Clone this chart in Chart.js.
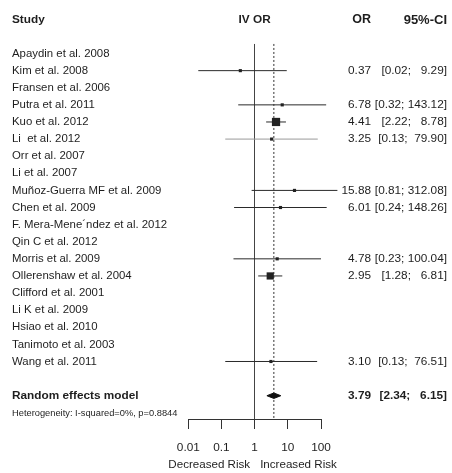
<!DOCTYPE html>
<html>
<head>
<meta charset="utf-8">
<script src="https://cdn.jsdelivr.net/npm/chart.js@4.4.0/dist/chart.umd.min.js"></script>
<style>
  html, body { margin: 0; padding: 0; background: #fff; }
  #wrap { width: 452px; height: 473px; }
</style>
</head>
<body>
<div id="wrap"><canvas id="forest" width="452" height="473"></canvas></div>
<script>
// Studies, top to bottom
const studies = [
    'Apaydin et al. 2008', 'Kim et al. 2008', 'Fransen et al. 2006', 'Putra et al. 2011',
    'Kuo et al. 2012', 'Li  et al. 2012', 'Orr et al. 2007', 'Li et al. 2007',
    'Muñoz-Guerra MF et al. 2009', 'Chen et al. 2009', 'F. Mera-Mene\u00b4ndez et al. 2012',
    'Qin C et al. 2012', 'Morris et al. 2009', 'Ollerenshaw et al. 2004', 'Clifford et al. 2001',
    'Li K et al. 2009', 'Hsiao et al. 2010', 'Tanimoto et al. 2003', 'Wang et al. 2011'
];
// Odds ratios and 95% CI (null = no estimable OR)
const orValues = [null, 0.37, null, 6.78, 4.41, 3.25, null, null, 15.88, 6.01, null, null, 4.78, 2.95, null, null, null, null, 3.10];
const ciLower  = [null, 0.02, null, 0.32, 2.22, 0.13, null, null, 0.81, 0.24, null, null, 0.23, 1.28, null, null, null, null, 0.13];
const ciUpper  = [null, 9.29, null, 143.12, 8.78, 79.90, null, null, 312.08, 148.26, null, null, 100.04, 6.81, null, null, null, null, 76.51];
// relative study weights (size of the square)
const weights  = [0, 1, 0, 1, 6, 1, 0, 0, 1, 1, 0, 0, 1, 5, 0, 0, 0, 0, 1];

const pooledLabel = 'Random effects model';
const pooledOR = 3.79, pooledLower = 2.34, pooledUpper = 6.15;
const heterogeneity = 'Heterogeneity: I-squared=0%, p=0.8844';
const xTicks = [0.01, 0.1, 1, 10, 100];
const sideLabels = ['Decreased Risk', 'Increased Risk'];

const FONT = "'Liberation Sans', Arial, sans-serif";
const TEXT = '#1e1e1e';
const yTop = 0.44, yBottom = 22.42;

// rows of the table: header, studies, pooled, heterogeneity
const rows = [];
rows.push({ y: -0.96, name: 'Study', or: 'OR', ci: '95%-CI', kind: 'head' });
studies.forEach((s, i) => {
    const has = orValues[i] !== null;
    rows.push({
        y: i + 1, name: s,
        or: has ? orValues[i].toFixed(2) : '',
        ci: has ? '[' + ciLower[i].toFixed(2) + '; ' + ciUpper[i].toFixed(2).padStart(6) + ']' : '',
        kind: 'study'
    });
});
const pooledRow = studies.length + 2;
rows.push({ y: pooledRow, name: pooledLabel, or: pooledOR.toFixed(2),
    ci: '[' + pooledLower.toFixed(2) + '; ' + pooledUpper.toFixed(2).padStart(6) + ']', kind: 'pooled' });
rows.push({ y: pooledRow + 1.05, name: heterogeneity, or: '', ci: '', kind: 'het' });

function rowFont(i, size, headSize) {
    const k = rows[i] ? rows[i].kind : 'study';
    if (k === 'het') return { family: FONT, size: 9.3 };
    if (k === 'head') return { family: FONT, size: headSize, weight: 'bold' };
    if (k === 'pooled') return { family: FONT, size: 11.8, weight: 'bold' };
    return { family: FONT, size: size };
}

function tableAxis(field, position, width, weight, size, headSize) {
    return {
        type: 'linear', position: position, reverse: true, min: yTop, max: yBottom, weight: weight,
        afterBuildTicks: a => { a.ticks = rows.map(r => ({ value: r.y })); },
        afterFit: a => { a.width = width; },
        ticks: {
            autoSkip: false, crossAlign: 'far', padding: 0, color: TEXT,
            callback: (v, i) => rows[i][field],
            font: ctx => rowFont(ctx.index, size, headSize)
        },
        grid: { display: false, drawTicks: false },
        border: { display: false }
    };
}

// confidence interval lines
const datasets = [];
studies.forEach((s, i) => {
    if (orValues[i] === null) return;
    datasets.push({
        data: [{ x: ciLower[i], y: i + 1 }, { x: ciUpper[i], y: i + 1 }],
        showLine: true, borderColor: s.startsWith('Li  ') ? '#9a9a9a' : '#2a2a2a',
        borderWidth: 1, pointRadius: 0, clip: false, order: 2
    });
});
// study squares
datasets.push({
    data: studies.map((s, i) => orValues[i] === null ? null : { x: orValues[i], y: i + 1 }).filter(p => p),
    pointStyle: 'rect',
    pointRadius: weights.filter((w, i) => orValues[i] !== null).map(w => 1.5 + w * 0.72),
    backgroundColor: '#222', borderWidth: 0, clip: false, order: 0
});
// pooled diamond
datasets.push({
    data: [
        { x: pooledLower, y: pooledRow }, { x: pooledOR, y: pooledRow - 0.16 },
        { x: pooledUpper, y: pooledRow }, { x: pooledOR, y: pooledRow + 0.16 },
        { x: pooledLower, y: pooledRow }
    ],
    showLine: true, fill: 'shape', borderColor: '#111', backgroundColor: '#111',
    borderWidth: 1, pointRadius: 0, tension: 0, clip: false, order: 0
});
// dotted line at the pooled estimate
datasets.push({
    data: [{ x: pooledOR, y: yTop }, { x: pooledOR, y: yBottom }],
    showLine: true, borderColor: '#333', borderDash: [2, 2], borderWidth: 1,
    pointRadius: 0, clip: false, order: 1
});

// "Decreased Risk | Increased Risk" either side of OR = 1
const sideLabelPlugin = {
    id: 'sideLabels',
    afterDraw(chart) {
        const ctx = chart.ctx;
        const x1 = chart.scales.x.getPixelForValue(1);
        ctx.save();
        ctx.font = '11.6px ' + FONT;
        ctx.fillStyle = TEXT;
        ctx.textBaseline = 'middle';
        ctx.textAlign = 'right';
        ctx.fillText(sideLabels[0], x1 - 4.5, 465);
        ctx.textAlign = 'left';
        ctx.fillText(sideLabels[1], x1 + 5.5, 465);
        ctx.restore();
    }
};

new Chart(document.getElementById('forest'), {
    type: 'scatter',
    data: { datasets: datasets },
    plugins: [sideLabelPlugin],
    options: {
        responsive: false,
        animation: false,
        devicePixelRatio: 1,
        layout: { padding: { left: 12, right: 5, top: 0, bottom: 0 } },
        plugins: {
            legend: { display: false },
            tooltip: { enabled: false },
            title: {
                display: true, text: 'IV OR', fullSize: false, color: TEXT,
                font: { family: FONT, size: 11.8, weight: 'bold' },
                padding: { top: 13, bottom: 16.8 }
            }
        },
        scales: {
            x: {
                type: 'logarithmic', min: 0.01, max: 100, position: 'bottom',
                afterBuildTicks: a => { a.ticks = xTicks.map(v => ({ value: v })); },
                afterFit: a => { a.height = 53; },
                ticks: {
                    autoSkip: false, maxRotation: 0, padding: 12, color: TEXT,
                    font: { family: FONT, size: 11.8 },
                    callback: v => String(v)
                },
                grid: {
                    color: c => (c.tick && c.tick.value === 1) ? '#444' : 'rgba(0,0,0,0)',
                    tickColor: '#333', tickLength: 9, lineWidth: 1
                },
                border: { display: true, color: '#333', width: 1 }
            },
            y: tableAxis('name', 'left', 176.3, 0, 11.4, 11.8),
            y2: tableAxis('or', 'right', 50, 0, 11.8, 12.5),
            y3: tableAxis('ci', 'right', 76, 1, 11.8, 13)
        }
    }
});
</script>
</body>
</html>
